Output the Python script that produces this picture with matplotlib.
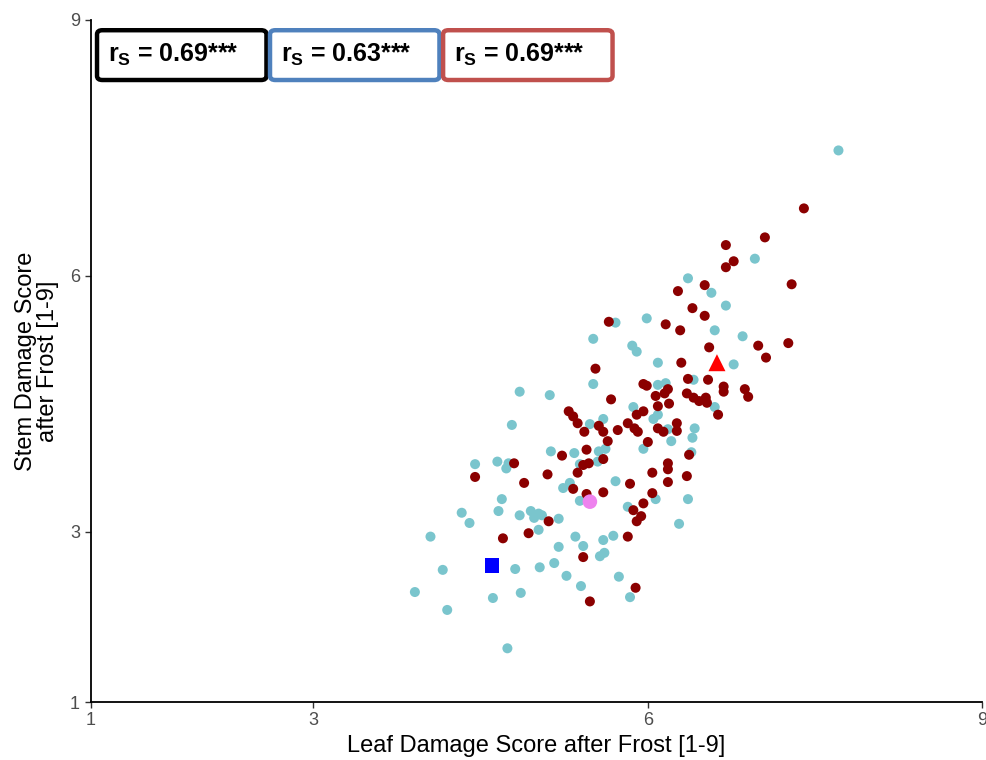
import matplotlib
matplotlib.use("Agg")
import matplotlib.pyplot as plt
from matplotlib.patches import FancyBboxPatch

plt.rcParams['font.family'] = ['Liberation Sans', 'DejaVu Sans']
plt.rcParams['mathtext.fontset'] = 'custom'
plt.rcParams['mathtext.rm'] = 'Liberation Sans'
plt.rcParams['mathtext.bf'] = 'Liberation Sans:bold'

# group 1 (teal points): leaf score, stem score
teal_leaf = [7.71, 6.96, 6.36, 6.57, 6.70, 6.60, 6.85, 6.77, 5.99, 5.71,
             5.51, 5.86, 5.90, 6.09, 5.51, 6.41, 6.09, 6.16, 5.87, 6.60,
             6.05, 6.09, 6.18, 6.42, 6.40, 6.21, 5.96, 5.60, 5.62, 5.56,
             6.39, 5.71, 6.07, 6.36, 5.82, 6.28, 5.69, 5.60, 5.61, 5.57,
             4.85, 5.12, 4.78, 5.48, 5.13, 5.34, 5.55, 5.39, 4.65, 4.73,
             4.75, 4.45, 5.24, 5.30, 5.39, 4.69, 4.33, 4.40, 4.66, 4.85,
             4.95, 4.98, 5.02, 5.05, 5.20, 4.05, 5.02, 5.35, 5.42, 5.20,
             4.16, 4.81, 5.03, 5.16, 5.27, 5.40, 5.74, 5.84, 3.91, 4.61,
             4.86, 4.20, 4.74]
teal_stem = [7.47, 6.20, 5.97, 5.80, 5.65, 5.36, 5.29, 4.96, 5.50, 5.45,
             5.26, 5.18, 5.11, 4.98, 4.73, 4.78, 4.72, 4.74, 4.46, 4.46,
             4.32, 4.37, 4.20, 4.21, 4.10, 4.06, 3.97, 4.32, 3.97, 3.94,
             3.93, 3.59, 3.38, 3.38, 3.29, 3.09, 2.95, 2.90, 2.75, 2.71,
             4.64, 4.60, 4.25, 4.26, 3.94, 3.92, 3.82, 3.79, 3.82, 3.74,
             3.80, 3.79, 3.51, 3.57, 3.36, 3.38, 3.22, 3.10, 3.24, 3.19,
             3.24, 3.16, 3.21, 3.19, 3.15, 2.94, 3.02, 2.94, 2.83, 2.82,
             2.55, 2.56, 2.58, 2.63, 2.48, 2.36, 2.47, 2.23, 2.29, 2.22,
             2.28, 2.08, 1.63]

# group 2 (dark red points)
red_leaf = [7.40, 7.05, 6.70, 6.77, 6.70, 6.51, 7.29, 6.40, 6.51, 6.55,
            6.99, 7.26, 7.06, 6.54, 6.27, 5.65, 6.16, 6.29, 5.53, 6.30,
            6.36, 5.96, 5.99, 6.18, 6.15, 6.07, 5.67, 6.35, 6.41, 6.46,
            6.52, 6.53, 6.68, 6.68, 6.87, 6.90, 6.09, 6.19, 5.96, 5.90,
            5.29, 6.63, 5.82, 5.88, 5.91, 6.09, 6.14, 6.26, 6.26, 5.73,
            5.56, 5.60, 5.64, 6.00, 6.37, 5.60, 6.18, 6.18, 6.18, 6.04,
            6.35, 5.84, 5.60, 6.04, 5.96, 5.87, 5.94, 5.90, 5.82, 5.33,
            5.37, 5.43, 5.23, 5.45, 5.42, 5.47, 4.80, 4.45, 5.10, 5.37,
            4.89, 5.33, 5.45, 5.11, 4.70, 4.93, 5.42, 5.89, 5.48]
red_stem = [6.79, 6.45, 6.36, 6.17, 6.10, 5.89, 5.90, 5.62, 5.53, 5.16,
            5.18, 5.21, 5.04, 4.78, 5.82, 5.46, 5.43, 5.36, 4.91, 4.98,
            4.79, 4.73, 4.71, 4.67, 4.62, 4.59, 4.55, 4.62, 4.57, 4.53,
            4.57, 4.51, 4.70, 4.64, 4.67, 4.58, 4.47, 4.50, 4.41, 4.37,
            4.41, 4.37, 4.27, 4.21, 4.17, 4.21, 4.17, 4.27, 4.18, 4.19,
            4.24, 4.17, 4.06, 4.05, 3.90, 3.85, 3.80, 3.73, 3.58, 3.69,
            3.65, 3.56, 3.46, 3.45, 3.33, 3.25, 3.18, 3.12, 2.94, 4.35,
            4.27, 4.17, 3.89, 3.96, 3.78, 3.80, 3.80, 3.64, 3.67, 3.69,
            3.57, 3.50, 3.44, 3.12, 2.92, 2.98, 2.70, 2.34, 2.18]

# reference genotypes
square_pt = (4.60, 2.60)
circle_pt = (5.48, 3.35)
triangle_pt = (6.62, 4.98)

rs_labels = ["0.69***", "0.63***", "0.69***"]
rs_colors = ["black", "#4F81BD", "#C0504D"]

fig = plt.figure(figsize=(9.86, 7.6), dpi=100)
ax = fig.add_axes([0.0918, 0.0763, 0.9044, 0.8974])

ax.scatter(teal_leaf, teal_stem, s=52, color="#7AC5CD", edgecolors="none", zorder=2)
ax.scatter(red_leaf, red_stem, s=52, color="#8B0000", edgecolors="none", zorder=3)
ax.scatter([square_pt[0]], [square_pt[1]], s=110, marker="s", color="#0000FF", edgecolors="none", zorder=4)
ax.scatter([circle_pt[0]], [circle_pt[1]], s=110, marker="o", color="#EE82EE", edgecolors="none", zorder=4)
ax.scatter([triangle_pt[0]], [triangle_pt[1]], s=150, marker="^", color="#FF0000", edgecolors="none", zorder=4)

ax.set_xlim(1, 9)
ax.set_ylim(1, 9)
ax.set_xticks([1, 3, 6, 9])
ax.set_yticks([1, 3, 6, 9])
for s in ["top", "right"]:
    ax.spines[s].set_visible(False)
for s in ["left", "bottom"]:
    ax.spines[s].set_linewidth(1.3)
ax.tick_params(length=4, width=1.0, colors="#333333", labelcolor="#4D4D4D", labelsize=13)

ax.set_xlabel("Leaf Damage Score after Frost [1-9]", fontsize=17, labelpad=4)
ax.set_ylabel("Stem Damage Score\nafter Frost [1-9]", fontsize=17, labelpad=8, linespacing=1.0)

# r_s boxes
box_w = 0.190
box_left = [0.0073, 0.2013, 0.3954]
for lab, col, x0 in zip(rs_labels, rs_colors, box_left):
    p = FancyBboxPatch((x0, 0.912), box_w, 0.073,
                       boxstyle="round,pad=0,rounding_size=0.006",
                       transform=ax.transAxes, fc="white", ec=col, lw=3.2,
                       clip_on=False, zorder=5)
    ax.add_patch(p)
    ax.text(x0 + 0.012, 0.9487, r"$\mathbf{r_S}$ = " + lab, transform=ax.transAxes,
            fontsize=18, fontweight="bold", va="center", ha="left", zorder=6)

fig.savefig("out.png", dpi=100)
